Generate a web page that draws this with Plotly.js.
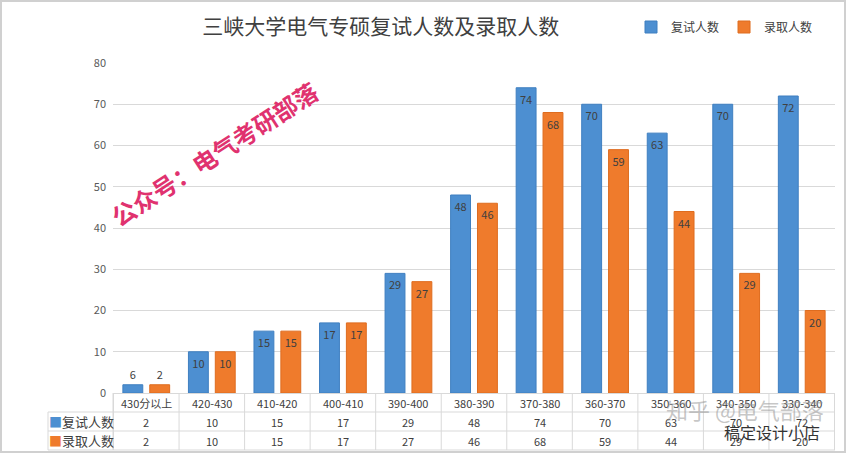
<!DOCTYPE html>
<html>
<head>
<meta charset="utf-8">
<script src="https://cdn.plot.ly/plotly-3.0.1.min.js"></script>
<style>
  html, body { margin: 0; padding: 0; background: #fff; }
  #myDiv { width: 846px; height: 453px; }
</style>
</head>
<body>
<div id="myDiv"></div>
<script>
var categories = ["430分以上", "420-430", "410-420", "400-410", "390-400", "380-390",
  "370-380", "360-370", "350-360", "340-350", "330-340"];
var fushi = [2, 10, 15, 17, 29, 48, 74, 70, 63, 70, 72];
var luqu = [2, 10, 15, 17, 27, 46, 68, 59, 44, 29, 20];
// bar labels as printed on the chart (the first blue one reads 6)
var fushiLabels = ["6", "10", "15", "17", "29", "48", "74", "70", "63", "70", "72"];
var luquLabels = ["2", "10", "15", "17", "27", "46", "68", "59", "44", "29", "20"];

var blue = "#4d8fd1";
var orange = "#ef7b2c";
var font = "Noto Sans CJK SC, Noto Sans, sans-serif";

var trace1 = {
  x: categories,
  y: fushi,
  name: "复试人数",
  type: "bar",
  text: fushiLabels,
  textposition: "auto",
  insidetextanchor: "end",
  insidetextfont: { color: "#404040", size: 11 },
  outsidetextfont: { color: "#404040", size: 11 },
  marker: { color: blue, line: { color: "#3f7fc0", width: 1 } },
  hoverinfo: "x+y",
};
var trace2 = {
  x: categories,
  y: luqu,
  name: "录取人数",
  type: "bar",
  text: luquLabels,
  textposition: "auto",
  insidetextanchor: "end",
  insidetextfont: { color: "#404040", size: 11 },
  outsidetextfont: { color: "#404040", size: 11 },
  marker: { color: orange, line: { color: "#de6c1f", width: 1 } },
  hoverinfo: "x+y",
};

// table under the plot
var plotH = 330;
function py(pix) { return (393 - pix) / plotH; }
function px(pix) { return (pix - 113) / 722; }
var gridCol = "#d9d9d9";

var shapes = [];
var annotations = [];
function note(o) {
  o.showarrow = false;
  o.xanchor = o.xanchor || "center";
  o.yanchor = "middle";
  annotations.push(o);
}
for (var i = 0; i <= categories.length; i++) {
  shapes.push({ type: "line", xref: "x", yref: "paper", x0: i - 0.5, x1: i - 0.5,
    y0: py(393), y1: py(450), line: { color: gridCol, width: 1 } });
}
shapes.push({ type: "line", xref: "paper", yref: "paper", x0: px(113), x1: px(113),
  y0: py(393), y1: py(450), line: { color: gridCol, width: 1 } });
shapes.push({ type: "line", xref: "paper", yref: "paper", x0: px(48), x1: px(48),
  y0: py(412), y1: py(450), line: { color: gridCol, width: 1 } });
[412, 431, 450].forEach(function (r) {
  shapes.push({ type: "line", xref: "paper", yref: "paper", x0: px(48), x1: 1,
    y0: py(r), y1: py(r), line: { color: gridCol, width: 1 } });
});
// outer frame
shapes.push({ type: "rect", xref: "paper", yref: "paper", x0: px(1), x1: px(845),
  y0: py(452), y1: py(1), line: { color: "#d0d0d0", width: 2 } });

for (var j = 0; j < categories.length; j++) {
  note({ xref: "x", yref: "paper", x: j, y: py(402.5), text: categories[j],
    font: { family: font, size: 11, color: "#404040" } });
  note({ xref: "x", yref: "paper", x: j, y: py(421.5), text: String(fushi[j]),
    font: { family: font, size: 11, color: "#404040" } });
  note({ xref: "x", yref: "paper", x: j, y: py(440.5), text: String(luqu[j]),
    font: { family: font, size: 11, color: "#404040" } });
}
note({ xref: "paper", yref: "paper", x: px(81), y: py(421.5),
  text: "<span style='color:" + blue + "'>■</span>复试人数",
  font: { family: font, size: 13, color: "#404040" } });
note({ xref: "paper", yref: "paper", x: px(81), y: py(440.5),
  text: "<span style='color:" + orange + "'>■</span>录取人数",
  font: { family: font, size: 13, color: "#404040" } });

// watermarks
note({ xref: "paper", yref: "paper", x: px(214), y: py(153), text: "<b>公众号：电气考研部落</b>",
  textangle: -33, font: { family: font, size: 24, color: "#e0326f" } });
note({ xref: "paper", yref: "paper", x: px(745), y: py(409), text: "知乎 @电气部落",
  font: { family: font, size: 22, color: "rgba(150,150,150,0.55)" } });
note({ xref: "paper", yref: "paper", x: px(772), y: py(432), text: "稿定设计小店",
  font: { family: font, size: 16, color: "#333333" } });

var layout = {
  width: 846,
  height: 453,
  barmode: "group",
  bargap: 0.18,
  bargroupgap: 0.26,
  title: {
    text: "三峡大学电气专硕复试人数及录取人数",
    x: 0.45, xanchor: "center", y: 1 - 27 / 453, yanchor: "middle",
    font: { family: font, size: 21, color: "#404040" },
  },
  font: { family: font, color: "#595959" },
  paper_bgcolor: "#ffffff",
  plot_bgcolor: "#ffffff",
  margin: { l: 113, r: 11, t: 63, b: 60 },
  xaxis: { showticklabels: false, ticks: "", showgrid: false, zeroline: false,
    showline: true, linecolor: gridCol, linewidth: 1 },
  yaxis: { range: [0, 80], dtick: 10, showgrid: true, gridcolor: gridCol, zeroline: false,
    ticks: "", tickfont: { size: 11, color: "#595959" }, ticklabelstandoff: 6 },
  legend: { orientation: "h", x: px(818), xanchor: "right", y: py(27), yanchor: "middle",
    font: { size: 12, color: "#404040" }, itemwidth: 30, tracegroupgap: 0 },
  showlegend: true,
  shapes: shapes,
  annotations: annotations,
};

Plotly.newPlot("myDiv", [trace1, trace2], layout, { displayModeBar: false });
</script>
</body>
</html>
